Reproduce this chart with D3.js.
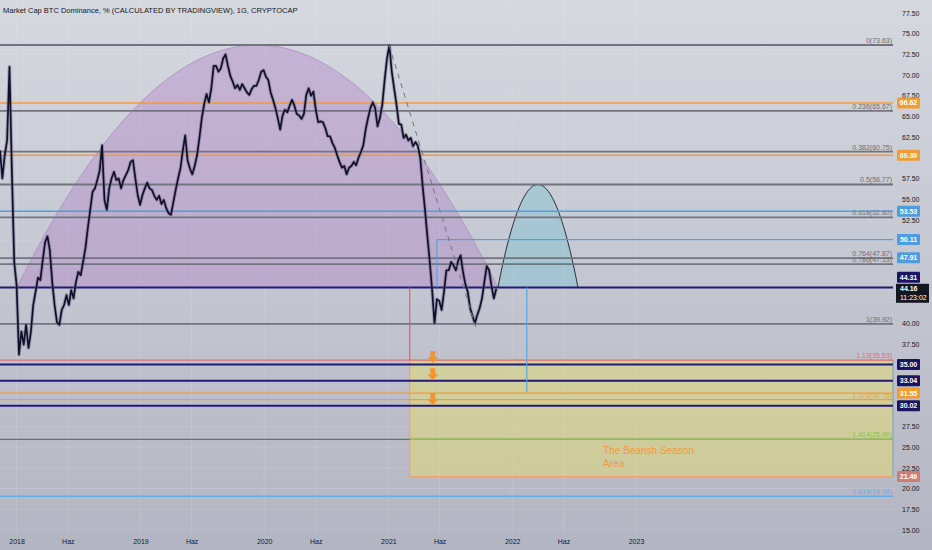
<!DOCTYPE html>
<html lang="tr">
<head>
<meta charset="UTF-8" />
<title>Market Cap BTC Dominance</title>
<style>
  html, body { margin: 0; padding: 0; background: #c6c9d2; overflow: hidden; }
  svg { display: block; font-family: "Liberation Sans", Arial, sans-serif; }
</style>
</head>
<body>
<div id="chart"></div>
<script src="https://d3js.org/d3.v7.min.js"></script>
<script>
  const W = 932, H = 550;
  const plotRight = 895, plotBottom = 533;

  // weekly closes, first week starts here
  const seriesStart = "2017-11-13";
  const dominance = [
    60.9, 57.5, 60.3, 62.1, 71.0, 58.5, 47.4, 44.6, 36.2, 39.0,
    37.4, 39.8, 37.0, 38.9, 42.2, 43.8, 45.5, 45.2, 47.6, 49.8,
    50.5, 48.8, 45.0, 42.2, 40.1, 39.8, 41.6, 42.2, 43.4, 42.2,
    44.0, 43.0, 45.0, 46.2, 45.8, 47.4, 49.1, 51.5, 53.7, 55.9,
    56.3, 57.3, 58.5, 61.5, 54.9, 53.7, 56.3, 57.5, 58.3, 57.3,
    57.5, 56.3, 57.3, 57.9, 58.5, 59.5, 59.7, 57.5, 55.5, 54.3,
    55.5, 56.3, 57.0, 56.3, 56.1, 55.4, 54.9, 55.4, 54.4, 54.9,
    53.9, 53.3, 53.1, 54.6, 56.1, 57.5, 58.7, 60.9, 62.7, 59.7,
    58.7, 58.0, 59.0, 60.3, 62.4, 64.8, 66.5, 67.7, 66.7, 68.4,
    71.1, 71.1, 70.4, 70.8, 72.0, 72.5, 71.1, 69.9, 69.2, 68.4,
    68.8, 68.2, 68.9, 68.4, 67.9, 67.6, 68.3, 68.7, 68.7, 69.4,
    70.4, 70.6, 69.8, 69.4, 67.9, 67.0, 66.0, 64.8, 63.4, 65.1,
    65.8, 65.5, 66.3, 67.0, 66.3, 65.3, 65.1, 64.7, 65.3, 67.6,
    68.4, 67.5, 68.0, 65.8, 64.3, 64.4, 64.3, 63.6, 62.6, 62.6,
    61.8, 61.2, 60.3, 59.5, 58.8, 59.0, 58.0, 58.8, 59.0, 59.5,
    59.1, 60.0, 60.7, 61.5, 63.4, 64.8, 66.0, 66.7, 66.0, 63.8,
    64.8, 66.4, 69.4, 72.0, 73.6, 70.4, 68.4, 66.4, 64.1, 64.0,
    62.4, 62.8, 62.1, 62.4, 61.4, 61.9, 61.4, 60.0, 56.6, 53.7,
    50.5, 47.4, 44.0, 40.0, 42.9, 42.7, 41.6, 43.8, 46.4, 46.4,
    47.4, 47.0, 46.4, 47.6, 48.2, 46.2, 44.7, 43.8, 41.8, 40.9,
    40.0, 41.0, 41.8, 43.0, 45.0, 46.9, 46.4, 44.5, 43.0, 44.16
  ];
  const lastPrice = 44.16;
  const countdown = "11:23:02";

  const fibRatios = ["0", "0.236", "0.382", "0.5", "0.618", "0.764", "0.786", "1", "1.13", "1.272", "1.414", "1.618"];
  const fibValues = [73.63, 65.67, 60.75, 56.77, 52.80, 47.87, 47.13, 39.92, 35.53, 30.75, 25.96, 19.08];

  const hLineValues = [66.62, 60.30, 53.53, 44.31, 35.00, 33.04, 31.55, 30.02];
  const hLineKinds = ["orange", "orange", "blue", "navy", "navy", "navy", "orange", "navy"];

  const tagValues = [66.62, 60.30, 53.53, 50.11, 47.91, 44.31, 35.00, 33.04, 31.55, 30.02, 21.46];
  const tagKinds = ["orange", "orange", "blue", "blue", "blue", "navy", "navy", "navy", "orange", "navy", "red"];

  const yTickValues = [15, 17.5, 20, 22.5, 25, 27.5, 30, 32.5, 35, 37.5, 40, 42.5, 45, 47.5,
                       50, 52.5, 55, 57.5, 60, 62.5, 65, 67.5, 70, 72.5, 75, 77.5];
  const xTickDates = ["2018-01-01", "2018-06-01", "2019-01-01", "2019-06-01", "2020-01-01", "2020-06-01",
                      "2021-01-01", "2021-06-01", "2022-01-01", "2022-06-01", "2023-01-01"];
  const xTickLabels = ["2018", "Haz", "2019", "Haz", "2020", "Haz", "2021", "Haz", "2022", "Haz", "2023"];

  // drawings
  const cupDates = ["2018-01-02", "2021-11-20"];
  const cupValues = [44.31, 73.63];          // base, top
  const projDates = ["2021-11-20", "2022-07-14"];
  const projValues = [44.31, 56.77];
  const trendDates = ["2021-01-03", "2021-09-16"];
  const trendValues = [73.63, 39.5];
  const boxStart = "2021-03-05";
  const boxValues = [35.53, 21.46];
  const breakDate = "2021-05-24";
  const breakValues = [50.11, 44.31];
  const targetDate = "2022-02-13";
  const targetValues = [44.31, 31.7];
  const arrowDate = "2021-05-12";
  const arrowTips = [35.2, 33.1, 30.1];
  const title = "Market Cap BTC Dominance, % (CALCULATED BY TRADINGVIEW), 1G, CRYPTOCAP";
  const boxText = ["The Bearish Season", "Area"];
  const boxTextDate = "2022-09-26";
  const boxTextValue = 24.15;

  const colors = {
    gray: "#72757f", navy: "#221878", orange: "#f59c32", blue: "#4f9fe3",
    red: "#d9737e", green: "#8cc152", sky: "#62b0ea", dark: "#131722"
  };
  const fibColor = r => r === "1.13" ? colors.red : r === "1.272" ? colors.orange
    : r === "1.414" ? colors.green : r === "1.618" ? colors.sky : colors.gray;
  const tagColor = { orange: "#f39c34", blue: "#4d9de0", navy: "#1b1464", red: "#cf7a7c" };

  const parse = d3.utcParse("%Y-%m-%d");
  const x = d3.scaleUtc()
    .domain([parse("2018-01-01"), parse("2023-01-01")])
    .range([16.6, 636]);
  const y = d3.scaleLinear().domain([15, 77.5]).range([530, 13]);

  const start = parse(seriesStart);
  const series = dominance.map((v, i) => ({ date: d3.utcDay.offset(start, 7 * i), v }));

  const svg = d3.select("#chart").append("svg")
    .attr("width", W).attr("height", H);

  const defs = svg.append("defs");
  const grad = defs.append("linearGradient").attr("id", "bg")
    .attr("x1", 0).attr("y1", 0).attr("x2", 0).attr("y2", 1);
  grad.append("stop").attr("offset", "0%").attr("stop-color", "#d5d8df");
  grad.append("stop").attr("offset", "100%").attr("stop-color", "#b3b6c2");
  defs.append("clipPath").attr("id", "plot")
    .append("rect").attr("width", plotRight).attr("height", plotBottom);

  svg.append("rect").attr("width", W).attr("height", H).attr("fill", "url(#bg)");

  const plot = svg.append("g").attr("clip-path", "url(#plot)");

  // faint grid
  plot.append("g").selectAll("line").data(xTickDates).join("line")
    .attr("x1", d => x(parse(d))).attr("x2", d => x(parse(d)))
    .attr("y1", 0).attr("y2", plotBottom)
    .attr("stroke", "#ffffff").attr("stroke-opacity", 0.12);
  plot.append("g").selectAll("line").data(yTickValues).join("line")
    .attr("x1", 0).attr("x2", plotRight)
    .attr("y1", d => y(d)).attr("y2", d => y(d))
    .attr("stroke", "#ffffff").attr("stroke-opacity", 0.1);

  // parabolic arcs
  function arch(dates, vals) {
    const x0 = x(parse(dates[0])), x1 = x(parse(dates[1]));
    const yb = y(vals[0]), yt = y(vals[1]);
    const pts = d3.range(0, 61).map(k => {
      const t = k / 30 - 1;
      return [x0 + (t + 1) / 2 * (x1 - x0), yb - (1 - t * t) * (yb - yt)];
    });
    return d3.line()(pts);
  }
  plot.append("path").attr("d", arch(cupDates, cupValues) + "Z")
    .attr("fill", "rgba(176,120,200,0.36)")
    .attr("stroke", "#ad8cc4").attr("stroke-width", 0.8);
  plot.append("path").attr("d", arch(projDates, projValues) + "Z")
    .attr("fill", "rgba(116,193,214,0.38)").attr("stroke", "none");
  plot.append("path").attr("d", arch(projDates, projValues))
    .attr("fill", "none").attr("stroke", "#2a2e39").attr("stroke-width", 1);

  // bearish box
  const bx0 = x(parse(boxStart)), bx1 = plotRight - 2;
  plot.append("rect")
    .attr("x", bx0).attr("y", y(boxValues[0]))
    .attr("width", bx1 - bx0).attr("height", y(boxValues[1]) - y(boxValues[0]))
    .attr("fill", "rgba(240,228,90,0.4)")
    .attr("stroke", "#eba266").attr("stroke-width", 1);
  plot.append("line")
    .attr("x1", bx1).attr("x2", bx1).attr("y1", y(boxValues[0])).attr("y2", y(boxValues[1]))
    .attr("stroke", colors.sky).attr("stroke-width", 1);

  // fib lines
  const fibG = plot.append("g");
  fibG.selectAll("line").data(fibValues).join("line")
    .attr("x1", 0).attr("x2", plotRight - 2)
    .attr("y1", d => y(d)).attr("y2", d => y(d))
    .attr("stroke", (d, i) => i === 10 ? "#667470" : fibColor(fibRatios[i]))
    .attr("stroke-width", (d, i) => fibColor(fibRatios[i]) === colors.gray ? 1.8 : 1.3);
  fibG.append("line")
    .attr("x1", bx0).attr("x2", plotRight - 2)
    .attr("y1", y(fibValues[10])).attr("y2", y(fibValues[10]))
    .attr("stroke", colors.green).attr("stroke-width", 1.5);
  fibG.selectAll("text").data(fibValues).join("text")
    .attr("x", plotRight - 3).attr("y", d => y(d) - 2)
    .attr("text-anchor", "end").attr("font-size", 7)
    .attr("fill", (d, i) => fibColor(fibRatios[i]) === colors.gray ? "#6a6e7a" : fibColor(fibRatios[i]))
    .text((d, i) => `${fibRatios[i]}(${d.toFixed(2)})`);

  // horizontal levels
  plot.append("g").selectAll("line").data(hLineValues).join("line")
    .attr("x1", 0).attr("x2", plotRight - 2)
    .attr("y1", d => y(d)).attr("y2", d => y(d))
    .attr("stroke", (d, i) => colors[hLineKinds[i]])
    .attr("stroke-width", (d, i) => hLineKinds[i] === "navy" ? 2 : 1.4);

  // breakout line and verticals
  const bdx = x(parse(breakDate));
  plot.append("line").attr("x1", bdx).attr("x2", plotRight - 2)
    .attr("y1", y(breakValues[0])).attr("y2", y(breakValues[0]))
    .attr("stroke", colors.blue).attr("stroke-width", 1.3);
  plot.append("line").attr("x1", bdx).attr("x2", bdx)
    .attr("y1", y(breakValues[0])).attr("y2", y(breakValues[1]))
    .attr("stroke", colors.blue).attr("stroke-width", 1);
  plot.append("line").attr("x1", bx0).attr("x2", bx0)
    .attr("y1", y(cupValues[0])).attr("y2", y(boxValues[0]))
    .attr("stroke", "#d9606b").attr("stroke-width", 1.2);
  const tdx = x(parse(targetDate));
  plot.append("line").attr("x1", tdx).attr("x2", tdx)
    .attr("y1", y(targetValues[0])).attr("y2", y(targetValues[1]))
    .attr("stroke", "#5aa7e3").attr("stroke-width", 1.2);

  // price
  const line = d3.line().x(d => x(d.date)).y(d => y(d.v));
  plot.append("path").datum(series).attr("d", line)
    .attr("fill", "none").attr("stroke", "#6f6c80").attr("stroke-width", 3.6)
    .attr("stroke-opacity", 0.5).attr("stroke-linejoin", "round");
  plot.append("path").datum(series).attr("d", line)
    .attr("fill", "none").attr("stroke", "#120e30").attr("stroke-width", 1.7)
    .attr("stroke-linejoin", "round");

  // dashed trend
  plot.append("line")
    .attr("x1", x(parse(trendDates[0]))).attr("y1", y(trendValues[0]))
    .attr("x2", x(parse(trendDates[1]))).attr("y2", y(trendValues[1]))
    .attr("stroke", "#707480").attr("stroke-width", 1)
    .attr("stroke-dasharray", "5,5");

  // arrows
  const ax = x(parse(arrowDate));
  plot.append("g").selectAll("path").data(arrowTips).join("path")
    .attr("d", d => {
      const ty = y(d);
      return `M${ax - 2.5},${ty - 12} h5 v6 h3 L${ax},${ty} L${ax - 5.5},${ty - 6} h3 Z`;
    })
    .attr("fill", "#f5942d");

  // box text, one text per line
  plot.append("g").selectAll("text").data(boxText).join("text")
    .attr("x", x(parse(boxTextDate)))
    .attr("y", (d, i) => y(boxTextValue) + i * 12.5)
    .attr("font-size", 10).attr("fill", "#f39a3a")
    .attr("font-family", "'Liberation Sans', Arial, sans-serif")
    .text(d => d);

  // price tag positions (last-price tag pushes the level tag above it)
  const priceTop = y(lastPrice) - 5, priceH = 19;
  const tagY = tagValues.map(v => {
    const cy = y(v);
    return (cy + 5.5 > priceTop && cy - 5.5 < priceTop + priceH) ? priceTop - 6.5 : cy;
  });

  // right axis (labels hidden behind tags are dropped)
  const yAxis = svg.append("g").attr("transform", `translate(${plotRight + 6},0)`)
    .call(d3.axisRight(y).tickValues(yTickValues).tickFormat(d3.format(".2f")).tickSize(0));
  yAxis.select(".domain").remove();
  yAxis.selectAll(".tick")
    .filter(d => {
      const ty = y(d);
      return tagY.some(t => Math.abs(t - ty) < 7) || (ty > priceTop - 4 && ty < priceTop + priceH + 4);
    })
    .remove();
  yAxis.selectAll("text").attr("font-size", 7).attr("fill", colors.dark)
    .attr("font-family", "'Liberation Sans', Arial, sans-serif").attr("x", 1);

  // bottom axis
  const xAxis = svg.append("g").attr("transform", `translate(0,${plotBottom + 3})`)
    .call(d3.axisBottom(x).tickValues(xTickDates.map(parse))
      .tickFormat((d, i) => xTickLabels[i]).tickSize(0));
  xAxis.select(".domain").remove();
  xAxis.selectAll("text").attr("font-size", 7).attr("fill", colors.dark)
    .attr("font-family", "'Liberation Sans', Arial, sans-serif");

  // tags
  const tags = svg.append("g");
  tagValues.forEach((v, i) => {
    const cy = tagY[i];
    tags.append("rect").attr("x", plotRight + 2).attr("y", cy - 5.5)
      .attr("width", 23).attr("height", 11).attr("rx", 1)
      .attr("fill", tagColor[tagKinds[i]]);
    tags.append("text").attr("x", plotRight + 13.5).attr("y", cy + 2.5)
      .attr("text-anchor", "middle").attr("font-size", 7).attr("font-weight", "bold")
      .attr("fill", "#ffffff").text(v.toFixed(2));
  });
  tags.append("rect").attr("x", plotRight + 1).attr("y", priceTop)
    .attr("width", 33).attr("height", priceH).attr("fill", colors.dark);
  tags.append("text").attr("x", plotRight + 5).attr("y", priceTop + 7.5)
    .attr("font-size", 7).attr("font-weight", "bold").attr("fill", "#ffffff")
    .text(lastPrice.toFixed(2));
  tags.append("text").attr("x", plotRight + 5).attr("y", priceTop + 16)
    .attr("font-size", 7).attr("fill", "#ffffff").text(countdown);

  // title
  svg.append("text").attr("x", 3).attr("y", 12.5)
    .attr("font-size", 7.5).attr("fill", colors.dark)
    .text(title);
</script>
</body>
</html>
